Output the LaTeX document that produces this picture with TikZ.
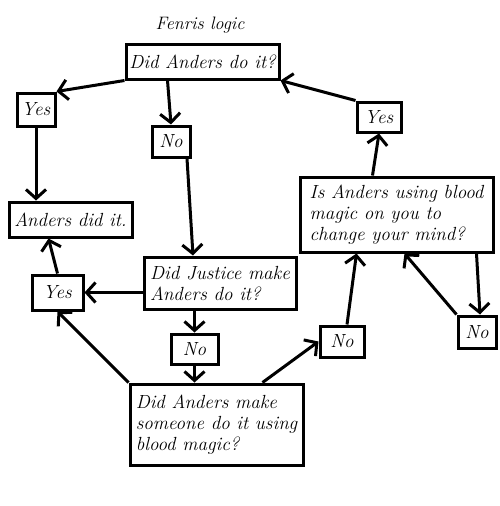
\documentclass[tikz,border=0pt]{standalone}
\usepackage{fontspec}
\usetikzlibrary{calc, arrows.meta}

\tikzset{
 box/.style={draw, line width=3pt, inner sep=1pt, font=\fontsize{19}{21}\selectfont\itshape, align=left},
 link/.style={line width=3pt, -{Straight Barb[length=9pt,width=20pt,line width=3pt]}}
}

\begin{document}
\begin{tikzpicture}[x=1pt, y=-1pt]
 \useasboundingbox (0,0) rectangle (500,506);
 \node (title) at (200,25) {\fontsize{18}{20}\selectfont\itshape Fenris logic};
 \node[box, minimum width=153pt, minimum height=35pt] (top) at (202.5,61.5) {Did Anders do it?};
 \node[box, minimum width=38pt, minimum height=33pt] (yesA) at (36,109.5) {Yes};
 \node[box, minimum width=38pt, minimum height=31pt] (noA) at (171,141.5) {No};
 \node[box, minimum width=123pt, minimum height=35pt] (did) at (70.5,219.5) {Anders did it.};
 \node[box, minimum width=152pt, minimum height=52pt] (justice) at (220,283) {Did Justice make\\Anders do it?};
 \node[box, minimum width=51pt, minimum height=35pt] (yesC) at (57.5,292.5) {Yes};
 \node[box, minimum width=47pt, minimum height=30pt] (noB) at (194.5,349) {No};
 \node[box, minimum width=173pt, minimum height=81pt] (blood) at (216.5,424.5) {Did Anders make\\someone do it using\\blood magic?};
 \node[box, minimum width=44pt, minimum height=31pt] (noC) at (342,341.5) {No};
 \node[box, minimum width=193pt, minimum height=75pt] (mind) at (396.5,214.5) {Is Anders using blood\\magic on you to\\change your mind?};
 \node[box, minimum width=44pt, minimum height=30pt] (yesB) at (379,117) {Yes};
 \node[box, minimum width=38pt, minimum height=32pt] (noD) at (477,332) {No};

 \draw[link] (top.south west) -- (yesA.north east);
 \draw[link] ([xshift=-35pt]top.south) -- (noA.north);
 \draw[link] (yesA.south) -- (yesA.south |- did.north);
 \draw[link] ([xshift=16pt]noA.south) -- ([xshift=-27pt]justice.north);
 \draw[link] (yesC.east -| justice.west) -- (yesC.east);
 \draw[link] (yesC.north) -- ([xshift=-22pt]did.south);
 \draw[link] (noB.north |- justice.south) -- (noB.north);
 \draw[link] (noB.south) -- (noB.south |- blood.north);
 \draw[link] (blood.north west) -- (yesC.south);
 \draw[link] ([xshift=46pt]blood.north) -- (noC.west);
 \draw[link] ([xshift=5pt]noC.north) -- ([xshift=-40pt]mind.south);
 \draw[link] ([xshift=80pt]mind.south) -- ([xshift=3pt]noD.north);
 \draw[link] (noD.north west) -- ([xshift=8pt]mind.south);
 \draw[link] ([xshift=-24pt]mind.north) -- (yesB.south);
 \draw[link] (yesB.north west) -- (top.south east);
\end{tikzpicture}
\end{document}
